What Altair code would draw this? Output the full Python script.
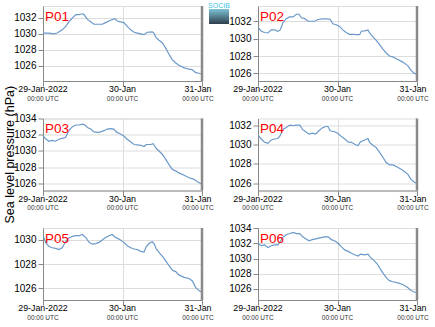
import altair as alt
import pandas as pd

# ---------------- data ----------------
tick_hours = [0, 24, 48]
tick_labels = ["29-Jan-2022", "30-Jan", "31-Jan"]
tick_sub = "00:00 UTC"
grid_hours = [0, 6, 12, 18, 24, 30, 36, 42, 48]
y_ticks = [1026, 1028, 1030, 1032, 1034]
y_title = "Sea level pressure (hPa)"
logo_text = "SOCIB"

p01_h = [0, 1.8, 3.3, 4.3, 5.8, 6.8, 7.8, 8.9, 9.9, 10.9, 11.9, 12.4, 13.4, 14.4, 15.4, 16.4, 17.9, 18.9, 20.4, 21.7,
         22.4, 23.4, 24.4, 25.5, 26.5, 27.5, 28.5, 29.5, 30.5, 31.5, 33.0, 33.5, 34.0, 35, 36, 37, 38, 39, 40, 41,
         42.5, 44, 45, 46, 47, 48]
p01_v = [1030.1, 1030.1, 1030.0, 1030.1, 1030.5, 1030.9, 1031.5, 1032.0, 1032.4, 1032.4, 1032.5, 1032.4, 1031.8,
         1031.5, 1031.2, 1031.2, 1031.2, 1031.4, 1031.7, 1031.9, 1031.6, 1031.5, 1031.4, 1030.9, 1030.5, 1030.2,
         1030.1, 1030.0, 1029.9, 1030.2, 1030.25, 1030.1, 1029.6, 1029.2, 1028.9, 1028.25, 1027.5, 1026.8, 1026.4,
         1026.1, 1025.8, 1025.6, 1025.55, 1025.2, 1025.1, 1025.0]

p02_h = [0, 1, 2, 3, 4, 5, 6, 6.7, 7.5, 8.5, 9.5, 10.6, 11.6, 12.4, 13.1, 14.1, 15.1, 16.1, 17.1, 18.1, 19.6, 21.1,
         21.8, 22.6, 23.6, 24.6, 25.6, 26.6, 27.6, 28.7, 29.7, 30.7, 31.2, 32.2, 33.2, 33.7, 34.7, 35.7, 36.7, 37.7,
         38.7, 39.7, 40.7, 42.2, 43.7, 45.2, 46.2, 47.2, 48]
p02_v = [1031.3, 1030.85, 1030.7, 1030.65, 1031.0, 1031.0, 1030.85, 1031.0, 1031.8, 1032.3, 1032.5, 1032.5, 1032.8,
         1032.8, 1032.4, 1032.3, 1032.0, 1032.0, 1032.0, 1032.2, 1032.27, 1032.27, 1032.2, 1031.7, 1031.6, 1031.4,
         1031.0, 1030.7, 1030.5, 1030.5, 1030.45, 1030.45, 1030.85, 1030.9, 1031.0, 1030.65, 1030.2, 1029.8, 1029.3,
         1028.8, 1028.35, 1028.0, 1027.9, 1027.6, 1027.3, 1026.9, 1026.35, 1026.0, 1025.9]

p03_h = [0, 0.8, 1.8, 2.8, 3.8, 4.8, 5.8, 6.8, 7.8, 8.9, 9.9, 10.9, 11.9, 12.7, 13.4, 14.4, 15.4, 16.4, 17.4, 18.4,
         19.4, 20.4, 21.4, 22.1, 23.4, 24.4, 25.4, 26.5, 27.5, 28.5, 29.5, 30.5, 31.2, 32.5, 33.3, 34, 35, 36, 37,
         38, 39, 40, 41, 42.6, 44.1, 45.6, 46.6, 47.6, 48]
p03_v = [1031.9, 1031.5, 1031.2, 1031.3, 1031.2, 1031.45, 1031.55, 1031.65, 1032.5, 1033.0, 1033.2, 1033.2, 1033.3,
         1033.2, 1032.9, 1032.7, 1032.35, 1032.3, 1032.35, 1032.5, 1032.7, 1032.75, 1032.7, 1032.35, 1032.1,
         1031.85, 1031.45, 1031.1, 1030.8, 1030.75, 1030.7, 1030.55, 1030.8, 1030.8, 1030.9, 1030.4, 1030.0,
         1029.6, 1029.0, 1028.35, 1027.75, 1027.55, 1027.3, 1027.0, 1026.7, 1026.5, 1026.2, 1026.0, 1025.9]

p04_h = [0, 1, 2, 3, 4, 5, 6, 6.7, 7.5, 8.5, 9.6, 10.6, 11.6, 12.6, 13.4, 14.4, 15.4, 16.4, 17.4, 18.4, 19.4, 20.4,
         21.1, 21.8, 23.1, 24.1, 25.2, 26.2, 27.2, 28.2, 29.2, 30.2, 30.9, 32.2, 33.2, 33.7, 34.7, 35.7, 36.7, 37.7,
         38.7, 39.7, 40.7, 42.2, 43.7, 45.2, 46.2, 47.2, 48]
p04_v = [1031.0, 1030.6, 1030.25, 1030.15, 1030.5, 1030.6, 1030.65, 1030.95, 1031.6, 1031.8, 1032.05, 1032.0,
         1032.05, 1032.05, 1031.6, 1031.35, 1031.1, 1031.2, 1031.1, 1031.45, 1031.75, 1031.9, 1031.9, 1031.45,
         1031.35, 1031.2, 1030.85, 1030.6, 1030.3, 1030.25, 1030.05, 1029.9, 1030.3, 1030.5, 1030.65, 1030.25,
         1029.95, 1029.7, 1029.2, 1028.7, 1028.15, 1027.9, 1027.9, 1027.65, 1027.35, 1026.95, 1026.4, 1026.1, 1026.0]

p05_h = [0, 0.8, 1.8, 2.8, 3.8, 4.8, 5.8, 6.8, 7.8, 8.9, 9.9, 10.9, 11.9, 12.9, 13.9, 14.9, 15.9, 16.9, 17.9, 18.9,
         19.9, 20.9, 21.7, 22.4, 23.4, 24.4, 25.5, 26.5, 27.5, 28.5, 29.5, 30.5, 31.2, 32, 33, 33.5, 34.2, 35.2,
         36.2, 37.2, 38.2, 39.2, 40, 41, 42.6, 44.1, 45.1, 46.1, 47.1, 48]
p05_v = [1030.4, 1029.8, 1029.45, 1029.35, 1029.3, 1029.2, 1029.35, 1029.85, 1030.15, 1030.3, 1030.35, 1030.35,
         1030.45, 1030.2, 1029.8, 1029.65, 1029.7, 1029.8, 1030.0, 1030.2, 1030.35, 1030.45, 1030.25, 1030.15,
         1030.0, 1029.8, 1029.5, 1029.35, 1029.25, 1029.2, 1029.05, 1029.0, 1029.45, 1029.7, 1029.85, 1029.7,
         1029.25, 1028.9, 1028.6, 1028.2, 1027.8, 1027.45, 1027.4, 1027.1, 1026.9, 1026.8, 1026.6, 1026.05,
         1025.8, 1025.65]

p06_h = [0, 1, 2, 3, 4, 5, 6, 6.7, 7.5, 8.5, 9.6, 10.6, 11.6, 12.6, 13.4, 14.4, 15.4, 16.4, 17.4, 18.4, 19.4, 20.4,
         21.4, 22.1, 23.1, 24.1, 25.2, 26.2, 27.2, 28.2, 29.2, 30.2, 30.9, 32.2, 33.2, 33.9, 34.9, 35.9, 36.9, 37.9,
         38.9, 39.7, 40.7, 42.2, 43.7, 45.2, 46.2, 47.2, 48]
p06_v = [1032.0, 1031.7, 1031.8, 1031.45, 1031.7, 1031.8, 1031.8, 1032.25, 1032.8, 1033.15, 1033.3, 1033.45,
         1033.3, 1033.3, 1032.9, 1032.6, 1032.35, 1032.5, 1032.6, 1032.7, 1032.8, 1032.9, 1032.8, 1032.5, 1032.35,
         1032.05, 1031.55, 1031.15, 1030.95, 1030.7, 1030.5, 1030.35, 1030.6, 1030.5, 1030.6, 1030.2, 1029.8,
         1029.35, 1028.65, 1028.0, 1027.4, 1027.1, 1026.95, 1026.8, 1026.6, 1026.2, 1025.8, 1025.6, 1025.5]

panel_names = ["P01", "P02", "P03", "P04", "P05", "P06"]
panel_hours = [p01_h, p02_h, p03_h, p04_h, p05_h, p06_h]
panel_vals = [p01_v, p02_v, p03_v, p04_v, p05_v, p06_v]
panel_domains = [[1024.13, 1033.47], [1025.13, 1033.75], [1025.13, 1034.0],
                 [1025.24, 1032.73], [1025.02, 1030.99], [1024.55, 1034.03]]

# ---------------- styling ----------------
W = 159
HEIGHTS = [75, 75, 72, 72, 72, 72]
LINE_COLOR = "#6a99c9"
FONT = "Liberation Sans"
LAST_SHIFT = -4  # the last date label sits slightly inside the right edge


def tick_text(h, rows, text_key, size, color, y_off, dx=0):
    return alt.Chart(pd.DataFrame(rows)).mark_text(
        font=FONT, fontSize=size, color=color, baseline="alphabetic", align="center", dx=dx
    ).encode(x=alt.X("hour:Q"), y=alt.value(h + y_off), text=f"{text_key}:N")


def panel(name, hours, vals, domain, h, logo=False):
    assert len(hours) == len(vals)
    df = pd.DataFrame({"hour": hours, "slp": vals})
    yv = [t for t in y_ticks if domain[0] <= t <= domain[1]]
    x = alt.X("hour:Q",
              scale=alt.Scale(domain=[0, 48], nice=False, zero=False),
              axis=alt.Axis(values=grid_hours, labels=False, title=None))
    y = alt.Y("slp:Q",
              scale=alt.Scale(domain=domain, nice=False, zero=False),
              axis=alt.Axis(values=yv, format="d", title=None))
    line = alt.Chart(df).mark_line(color=LINE_COLOR, strokeWidth=1.2, clip=True).encode(x=x, y=y)

    first = {"hour": tick_hours[:-1], "lab": tick_labels[:-1], "sub": [tick_sub] * (len(tick_hours) - 1)}
    last = {"hour": tick_hours[-1:], "lab": tick_labels[-1:], "sub": [tick_sub]}
    texts = [
        tick_text(h, first, "lab", 8.8, "black", 11),
        tick_text(h, last, "lab", 8.8, "black", 11, dx=LAST_SHIFT),
        tick_text(h, first, "sub", 6.5, "#333333", 19.9),
        tick_text(h, last, "sub", 6.5, "#333333", 19.9, dx=LAST_SHIFT),
    ]
    lab = alt.Chart(pd.DataFrame({"t": [name]})).mark_text(
        font=FONT, fontSize=13.5, color="#ff0000", align="left", baseline="alphabetic"
    ).encode(x=alt.value(2), y=alt.value(14.6), text="t:N")
    edge = alt.Chart(pd.DataFrame({"a": [0]})).mark_rule(color="#8a8a8a", strokeWidth=2.5).encode(
        x=alt.value(W), y=alt.value(0), y2=alt.value(h))
    layers = [line] + texts + [lab, edge]
    if logo:
        grad = alt.Gradient(gradient="linear",
                            stops=[alt.GradientStop(color="#7cc3d6", offset=0),
                                   alt.GradientStop(color="#2e3d4c", offset=1)],
                            x1=0, x2=0, y1=0, y2=1)
        box = alt.Chart(pd.DataFrame({"a": [0]})).mark_rect(fill=grad).encode(
            x=alt.value(W + 7), x2=alt.value(W + 27), y=alt.value(3), y2=alt.value(18))
        ltxt = alt.Chart(pd.DataFrame({"t": [logo_text]})).mark_text(
            font=FONT, fontSize=7, color="#45bfe0", align="center", baseline="bottom"
        ).encode(x=alt.value(W + 17), y=alt.value(3), text="t:N")
        layers += [box, ltxt]
    return alt.layer(*layers).properties(width=W, height=h)


panels = [panel(n, hh, vv, d, ht, logo=(i == 0))
          for i, (n, hh, vv, d, ht) in enumerate(zip(panel_names, panel_hours, panel_vals, panel_domains, HEIGHTS))]

chart = alt.concat(*panels, columns=2, spacing={"row": 37.5, "column": 56}, bounds="flush").properties(
    title=alt.TitleParams(y_title, orient="left", anchor="middle", font=FONT, fontSize=12.5,
                          fontWeight="normal", color="black", offset=-3, dx=7),
    padding={"left": 3, "top": 1, "right": 0, "bottom": 0},
).configure_view(
    stroke="#222222", strokeWidth=1
).configure_axis(
    labelFont=FONT, labelColor="black", grid=True, gridColor="#a8a8a8", gridDash=[1, 2],
    gridWidth=1, ticks=False, tickSize=0, domain=False
).configure_axisY(
    labelFontSize=8.7, labelPadding=2
).configure(background="white")

chart.save("out.html", embed_options={"renderer": "svg", "actions": False})
